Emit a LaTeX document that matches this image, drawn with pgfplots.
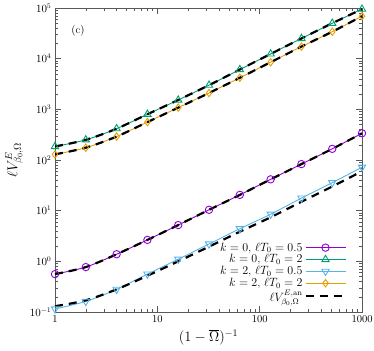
\documentclass[border=0pt]{standalone}
\usepackage{pgfplots}
\pgfplotsset{compat=1.18}
\usetikzlibrary{calc}
\definecolor{cpurple}{RGB}{148,0,211}
\definecolor{cgreen}{RGB}{0,158,115}
\definecolor{ccyan}{RGB}{86,180,233}
\definecolor{corange}{RGB}{230,159,0}
\begin{document}
\begin{tikzpicture}
\begin{axis}[
  scale only axis, width=307pt, height=304pt,
  xmode=log, ymode=log, xmin=1, xmax=1000, ymin=0.1, ymax=1e5,
  xtick={1,10,100,1000}, xticklabels={1,10,100,1000},
  ytick={0.1,1,10,100,1000,10000,100000},
  tick align=inside, xtick pos=both, ytick pos=both,
  major tick length=6pt, minor tick length=3pt,
  axis line style={gray!70!black}, every tick/.style={gray!70!black},
  tick label style={font=\fontsize{10.5}{12}\selectfont},
  xlabel={$(1-\overline{\Omega})^{-1}$}, ylabel={$\ell V^{E}_{\beta_0,\Omega}$},
  label style={font=\fontsize{14}{16}\selectfont},
  clip=false,
  legend style={at={(0.96,0.02)}, anchor=south east, draw=none, fill=none,
    font=\fontsize{11.5}{12}\selectfont, row sep=0pt, nodes={inner ysep=1pt}},
  legend cell align=right, legend plot pos=right,
  legend image code/.code={\draw[mark repeat=2,mark phase=2,#1] plot coordinates {(0cm,0cm) (0.7cm,0cm) (1.4cm,0cm)};},
]
\addplot[cpurple, line width=0.9pt, smooth, mark=o, mark size=3.7pt, mark options={solid, line width=0.9pt}] coordinates {
(1,0.56) (2,0.77) (4,1.38) (8,2.65) (16,5.2) (32,10.4) (64,20.5) (128,41.5) (256,83) (512,166) (1000,337)};
\addlegendentry{$k=0$, $\ell T_0=0.5$}
\addplot[cgreen, line width=0.9pt, smooth, mark=triangle, mark size=4.2pt, mark options={solid, line width=0.9pt}] coordinates {
(1,185) (2,250) (4,415) (8,800) (16,1530) (32,3000) (64,6100) (128,12400) (256,25000) (512,50000) (1000,95000)};
\addlegendentry{$k=0$, $\ell T_0=2$}
\addplot[ccyan, line width=0.9pt, smooth, mark=triangle, mark size=4.2pt, mark options={solid, rotate=180, line width=0.9pt}] coordinates {
(1,0.115) (2,0.162) (4,0.28) (8,0.56) (16,1.1) (32,2.2) (64,4.4) (128,8.5) (256,17.7) (512,35.7) (1000,72)};
\addlegendentry{$k=2$, $\ell T_0=0.5$}
\addplot[corange, line width=0.9pt, smooth, mark=diamond, mark size=3.7pt, mark options={solid, line width=0.9pt}] coordinates {
(1,129) (2,175) (4,290) (8,560) (16,1080) (32,2100) (64,4200) (128,8500) (256,17300) (512,34000) (1000,69000)};
\addlegendentry{$k=2$, $\ell T_0=2$}
\addplot[black, line width=2.2pt, dash pattern=on 8pt off 6pt, smooth, forget plot] coordinates {
(1,0.56) (2,0.77) (4,1.38) (8,2.65) (16,5.2) (32,10.4) (64,20.5) (128,41.5) (256,83) (512,166) (1000,337)};
\addplot[black, line width=2.2pt, dash pattern=on 8pt off 6pt, smooth, forget plot] coordinates {
(1,185) (2,250) (4,415) (8,800) (16,1530) (32,3000) (64,6100) (128,12400) (256,25000) (512,50000) (1000,95000)};
\addplot[black, line width=2.2pt, dash pattern=on 8pt off 6pt, smooth, forget plot] coordinates {
(1,0.13) (2,0.17) (4,0.28) (8,0.52) (16,1.0) (32,1.95) (64,3.85) (128,7.4) (256,15) (512,30) (1000,60)};
\addplot[black, line width=2.2pt, dash pattern=on 8pt off 6pt, smooth, forget plot] coordinates {
(1,129) (2,175) (4,290) (8,560) (16,1080) (32,2100) (64,4200) (128,8500) (256,17300) (512,34000) (1000,69000)};
\addlegendimage{black, line width=2.2pt, dash pattern=on 8pt off 6pt}
\addlegendentry{$\ell V^{E,\mathrm{an}}_{\beta_0,\Omega}$}
\node[font=\fontsize{11}{13}\selectfont] at (rel axis cs:0.075,0.925) {(c)};
\end{axis}
\pgfresetboundingbox
\path[use as bounding box] ($(current axis.south west)+(-55pt,-38pt)$) rectangle ($(current axis.north east)+(12pt,8pt)$);
\end{tikzpicture}
\end{document}
